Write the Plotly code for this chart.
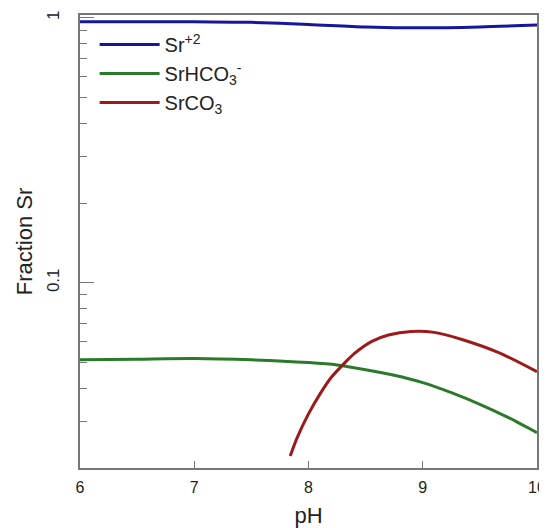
import plotly.graph_objects as go

ph_sr = [6.0, 6.5, 7.0, 7.5, 8.0, 8.5, 9.0, 9.5, 10.0]
frac_sr = [0.968, 0.968, 0.968, 0.962, 0.945, 0.925, 0.918, 0.925, 0.94]

ph_hco3 = [6.0, 6.5, 7.0, 7.5, 8.0, 8.25, 8.5, 8.75, 9.0, 9.25, 9.5, 9.75, 10.0]
frac_hco3 = [0.0512, 0.0515, 0.0518, 0.0512, 0.0500, 0.0490, 0.0470, 0.0448, 0.0420, 0.0385, 0.0348, 0.0310, 0.0272]

ph_co3 = [7.84, 7.9, 8.0, 8.1, 8.2, 8.3, 8.4, 8.55, 8.7, 8.9, 9.1, 9.35, 9.67, 10.0]
frac_co3 = [0.0222, 0.0260, 0.0320, 0.0380, 0.0440, 0.0490, 0.0540, 0.0600, 0.0635, 0.0655, 0.0650, 0.0610, 0.0544, 0.0462]

names = ["Sr<sup>+2</sup>", "SrHCO<sub>3</sub><sup>-</sup>", "SrCO<sub>3</sub>"]
colors = ["#16169c", "#2a7a2a", "#9c1a1a"]

minor_vals = [0.02, 0.03, 0.04, 0.05, 0.06, 0.07, 0.08, 0.09,
              0.2, 0.3, 0.4, 0.5, 0.6, 0.7, 0.8, 0.9]

fig = go.Figure()
for x, y, n, c in zip([ph_sr, ph_hco3, ph_co3], [frac_sr, frac_hco3, frac_co3], names, colors):
    fig.add_trace(go.Scatter(x=x, y=y, mode="lines", name=n,
                             line=dict(color=c, width=3, shape="spline", smoothing=0.8)))

fam = "Liberation Sans, Arial, sans-serif"
fig.update_layout(
    width=539, height=520,
    margin=dict(l=72, r=10, t=7, b=60),
    paper_bgcolor="white", plot_bgcolor="white",
    font=dict(family=fam, color="#222"),
    showlegend=True,
    legend=dict(x=0.032, y=0.978, xanchor="left", yanchor="top",
                font=dict(size=20), bgcolor="rgba(0,0,0,0)", itemwidth=60,
                tracegroupgap=0),
    xaxis=dict(range=[6, 10], dtick=1, tick0=6, ticks="inside", ticklen=7,
               tickcolor="#777", showline=True, linecolor="#777", linewidth=1.5,
               mirror=True, showgrid=False, zeroline=False,
               tickfont=dict(family=fam, size=16, color="#222"),
               automargin=False, ticklabelstandoff=4,
               title=dict(text="pH", font=dict(size=22), standoff=13)),
    yaxis=dict(type="log", range=[-1.699, 0.011], tickvals=[0.1, 1], ticktext=["0.1", "1"],
               ticks="inside", ticklen=14, tickcolor="#777", tickangle=-90,
               showline=True, linecolor="#777", linewidth=1.5, mirror=True,
               showgrid=False, zeroline=False,
               tickfont=dict(family=fam, size=17, color="#222"),
               automargin=False, ticklabelstandoff=12,
               minor=dict(tickvals=minor_vals, ticks="inside", ticklen=7, tickcolor="#777", showgrid=False),
               title=dict(text="Fraction Sr", font=dict(size=22), standoff=6)),
)

fig.write_html("out.html")
